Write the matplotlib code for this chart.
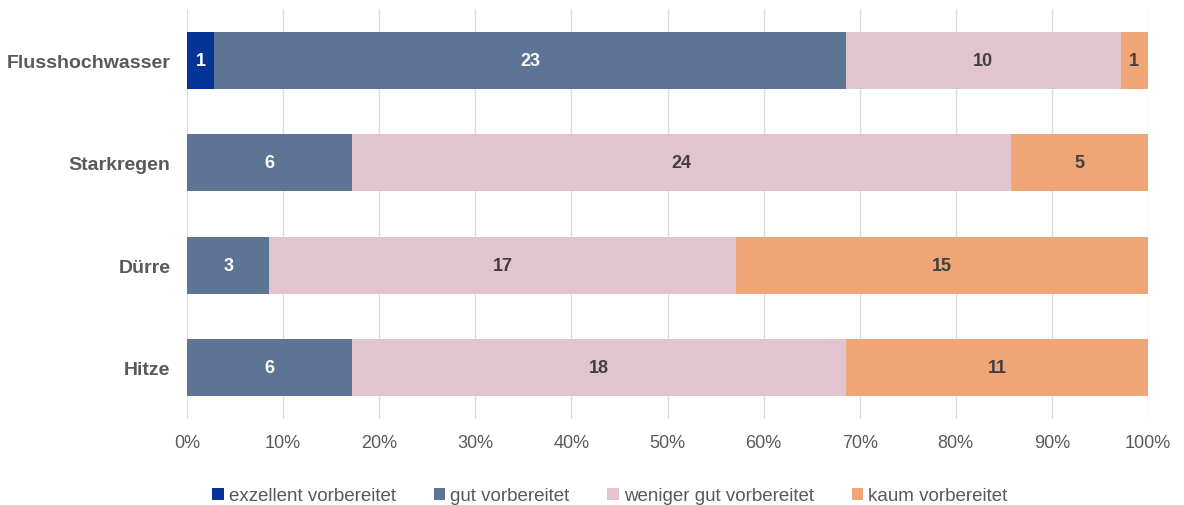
import numpy as np
import matplotlib.pyplot as plt

plt.rcParams['font.family'] = ['Liberation Sans', 'DejaVu Sans']

# data
categories = ['Flusshochwasser', 'Starkregen', 'Dürre', 'Hitze']
series_names = ['exzellent vorbereitet', 'gut vorbereitet',
                'weniger gut vorbereitet', 'kaum vorbereitet']
exzellent = [1, 0, 0, 0]
gut = [23, 6, 3, 6]
weniger_gut = [10, 24, 17, 18]
kaum = [1, 5, 15, 11]

colors = ['#06339A', '#5E7494', '#E2C4CE', '#F0A576']
text_colors = ['white', 'white', '#404040', '#404040']

values = np.array([exzellent, gut, weniger_gut, kaum], dtype=float)
totals = values.sum(axis=0)
shares = values / totals

fig = plt.figure(figsize=(11.84, 5.06), dpi=100)
ax = fig.add_axes([187 / 1184, 86 / 506, 961 / 1184, 410 / 506])

y = np.arange(len(categories))
left = np.zeros(len(categories))
for i, name in enumerate(series_names):
    ax.barh(y, shares[i], left=left, height=0.56, color=colors[i],
            label=name, zorder=2)
    for j in range(len(categories)):
        if values[i, j] > 0:
            ax.text(left[j] + shares[i, j] / 2, y[j], f'{int(values[i, j])}',
                    ha='center', va='center', fontsize=13, fontweight='bold',
                    color=text_colors[i], zorder=3)
    left += shares[i]

ax.set_xlim(0, 1)
ax.set_ylim(len(categories) - 0.5, -0.5)
ax.set_xticks(np.linspace(0, 1, 11))
ax.set_xticklabels([f'{int(t)}%' for t in np.arange(0, 101, 10)])
ax.set_yticks(y)
ax.set_yticklabels(categories, fontweight='bold')
ax.tick_params(axis='x', length=0, pad=11, labelsize=13, labelcolor='#595959')
ax.tick_params(axis='y', length=0, pad=12, labelsize=14, labelcolor='#595959')
ax.grid(axis='x', color='#DDDDDD', linewidth=1, zorder=0)
for s in ax.spines.values():
    s.set_visible(False)

fig.legend(loc='center', bbox_to_anchor=(610 / 1184, 9 / 506), ncol=4,
           frameon=False, fontsize=13.5, handlelength=0.6, handleheight=0.6,
           handletextpad=0.3, columnspacing=2.0, labelcolor='#595959')

fig.savefig('out.png', dpi=100)
